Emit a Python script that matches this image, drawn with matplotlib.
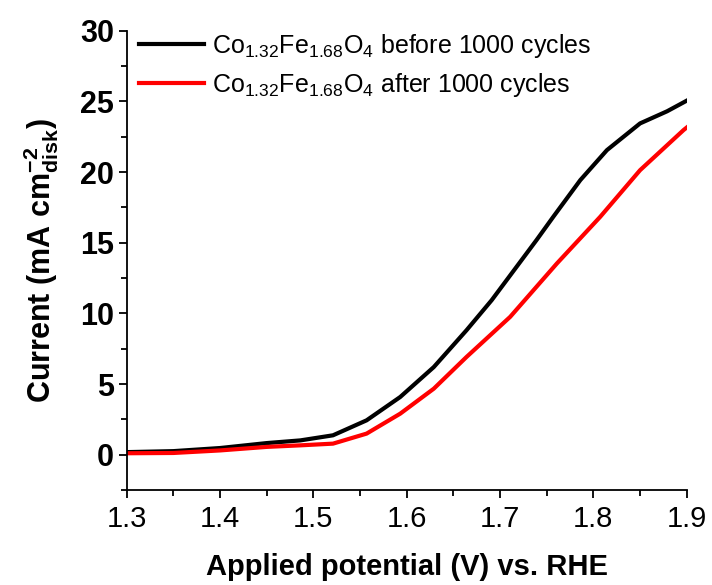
import matplotlib
matplotlib.use('Agg')
import matplotlib.pyplot as plt
from matplotlib.ticker import MultipleLocator
from matplotlib import font_manager

# potential (V vs RHE) and current density (mA cm-2)
v_before = [1.30, 1.35, 1.40, 1.45, 1.486, 1.521, 1.557, 1.593, 1.629, 1.664,
            1.691, 1.739, 1.757, 1.786, 1.8145, 1.85, 1.879, 1.90]
i_before = [0.18, 0.25, 0.47, 0.82, 1.01, 1.37, 2.43, 4.08, 6.2, 8.8,
            10.93, 15.18, 16.83, 19.43, 21.55, 23.44, 24.3, 25.05]

v_after = [1.30, 1.35, 1.40, 1.45, 1.486, 1.521, 1.557, 1.593, 1.629, 1.664,
           1.7108, 1.7609, 1.8073, 1.85, 1.8966, 1.90]
i_after = [0.1, 0.12, 0.3, 0.55, 0.66, 0.78, 1.49, 2.9, 4.67, 6.91,
           9.75, 13.53, 16.83, 20.13, 22.97, 23.15]

label_before = r'Co$_{\mathregular{1.32}}$Fe$_{\mathregular{1.68}}$O$_{\mathregular{4}}$ before 1000 cycles'
label_after = r'Co$_{\mathregular{1.32}}$Fe$_{\mathregular{1.68}}$O$_{\mathregular{4}}$ after 1000 cycles'

names = {f.name for f in font_manager.fontManager.ttflist}
fam = 'Liberation Sans Narrow' if 'Liberation Sans Narrow' in names else 'Liberation Sans'
plt.rcParams['font.family'] = [fam, 'DejaVu Sans']
plt.rcParams['mathtext.fontset'] = 'custom'
plt.rcParams['mathtext.rm'] = fam
plt.rcParams['mathtext.bf'] = fam + ':bold'

fig = plt.figure(figsize=(7.12, 5.85), dpi=100)
ax = fig.add_axes([0.178, 0.1624, 0.7865, 0.7851])

ax.plot(v_before, i_before, color='black', lw=3, solid_joinstyle='round', label=label_before)
ax.plot(v_after, i_after, color='#ff0000', lw=3, solid_joinstyle='round', label=label_after)

ax.set_xlim(1.3, 1.9)
ax.set_ylim(-2.5, 30)
ax.xaxis.set_major_locator(MultipleLocator(0.1))
ax.xaxis.set_minor_locator(MultipleLocator(0.05))
ax.yaxis.set_major_locator(MultipleLocator(5))
ax.yaxis.set_minor_locator(MultipleLocator(2.5))

for s in ['top', 'right']:
    ax.spines[s].set_visible(False)
for s in ['left', 'bottom']:
    ax.spines[s].set_linewidth(1.3)
ax.tick_params(which='major', direction='out', length=6, width=1.3)
ax.tick_params(which='minor', direction='out', length=4, width=1.3)
ax.tick_params(axis='x', labelsize=21, pad=5)
ax.tick_params(axis='y', labelsize=22, pad=3)
for t in ax.get_yticklabels():
    t.set_fontweight('bold')

ax.set_xlabel('Applied potential (V) vs. RHE', fontsize=21, fontweight='bold', labelpad=14)
ax.set_ylabel(r'Current (mA cm$^{\mathbf{-2}}_{\mathbf{disk}}$)', fontsize=22, fontweight='bold', labelpad=14)

ax.legend(loc='upper left', frameon=False, fontsize=18, handlelength=2.6,
          handletextpad=0.3, labelspacing=0.45, borderaxespad=0.1,
          bbox_to_anchor=(0.0, 1.025))

fig.savefig('out.png', dpi=100)
